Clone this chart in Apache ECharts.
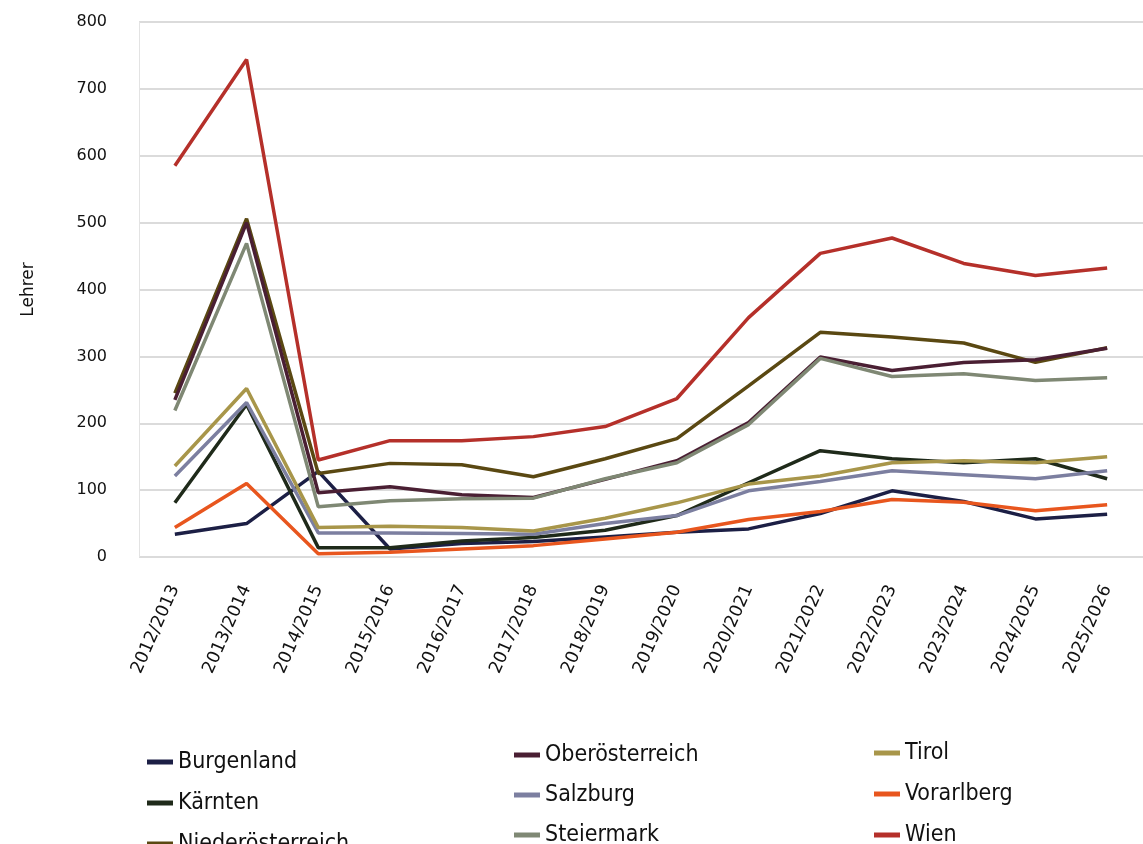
<!DOCTYPE html>
<html>
<head>
<meta charset="utf-8">
<script src="https://cdn.jsdelivr.net/npm/echarts@6/dist/echarts.min.js"></script>
<style>
    html, body { margin: 0; padding: 0; background: #fff; }
    #mychart { width: 1143px; height: 844px; }
</style>
</head>
<body>
<div id="mychart"></div>
<script>
// Schuljahre
var years = ['2012/2013', '2013/2014', '2014/2015', '2015/2016', '2016/2017', '2017/2018', '2018/2019',
    '2019/2020', '2020/2021', '2021/2022', '2022/2023', '2023/2024', '2024/2025', '2025/2026'];
var yTicks = [0, 100, 200, 300, 400, 500, 600, 700, 800];

// Lehrer je Bundesland
var burgenland = [34, 50, 128, 12, 20, 23, 30, 37, 42, 65, 99, 83, 57, 64];
var kaernten = [81, 228, 14, 14, 24, 29, 40, 62, 111, 159, 147, 141, 147, 117];
var niederoesterreich = [245, 506, 125, 140, 138, 120, 147, 177, 256, 336, 329, 320, 291, 313];
var oberoesterreich = [235, 500, 96, 105, 93, 89, 116, 144, 201, 299, 279, 291, 295, 312];
var salzburg = [121, 231, 36, 36, 35, 34, 50, 62, 99, 113, 129, 123, 117, 129];
var steiermark = [219, 469, 75, 84, 87, 88, 117, 141, 198, 297, 270, 274, 264, 268];
var tirol = [136, 252, 44, 46, 44, 39, 58, 81, 109, 121, 141, 144, 141, 150];
var vorarlberg = [44, 110, 5, 7, 12, 17, 27, 37, 56, 68, 86, 82, 69, 78];
var wien = [585, 744, 145, 174, 174, 180, 195, 237, 358, 454, 477, 439, 421, 432];

var names = ['Burgenland', 'Kärnten', 'Niederösterreich', 'Oberösterreich', 'Salzburg', 'Steiermark', 'Tirol', 'Vorarlberg', 'Wien'];
var values = [burgenland, kaernten, niederoesterreich, oberoesterreich, salzburg, steiermark, tirol, vorarlberg, wien];
var colors = ['#1c1f45', '#1f2a1a', '#5a4812', '#4a1f33', '#7c7fa0', '#7f8874', '#a8964a', '#e8561e', '#b5302a'];

var legendFont = '"Liberation Sans Narrow", "DejaVu Sans Condensed", "Noto Sans", sans-serif';

// Legende in drei Spalten
function makeLegend(left, top, gap, data) {
    return {
        orient: 'vertical',
        left: left,
        top: top,
        height: 200,
        icon: 'rect',
        itemWidth: 26,
        itemHeight: 5,
        itemGap: gap,
        data: data,
        textStyle: {
            fontFamily: legendFont,
            fontSize: 23,
            color: '#111',
            lineHeight: 24
        }
    };
}

var series = [];
for (var i = 0; i < names.length; i++) {
    series.push({
        name: names[i],
        type: 'line',
        data: values[i],
        symbol: 'none',
        lineStyle: { width: 3.5, color: colors[i] },
        itemStyle: { color: colors[i] },
        z: 2 + i
    });
}

var myChart = echarts.init(document.getElementById('mychart'));
myChart.setOption({
    animation: false,
    color: colors,
    grid: {
        left: 139,
        top: 22,
        width: 1013,
        height: 535
    },
    legend: [
        makeLegend(142, 745, 17, names.slice(0, 3)),
        makeLegend(509, 738, 16, names.slice(3, 6)),
        makeLegend(869, 736, 17, names.slice(6, 9))
    ],
    xAxis: {
        type: 'category',
        data: years,
        boundaryGap: true,
        axisLine: { show: false },
        axisTick: { show: false },
        axisLabel: {
            rotate: 66,
            interval: 0,
            margin: 29,
            color: '#111',
            fontSize: 17.5,
            fontFamily: '"DejaVu Sans", sans-serif'
        }
    },
    yAxis: {
        type: 'value',
        min: yTicks[0],
        max: yTicks[yTicks.length - 1],
        interval: 100,
        name: 'Lehrer',
        nameLocation: 'middle',
        nameRotate: 90,
        nameGap: 102,
        nameTextStyle: { color: '#111', fontSize: 17, fontFamily: '"DejaVu Sans", sans-serif' },
        axisLine: { show: true, lineStyle: { color: '#e3e3e3' } },
        axisLabel: {
            margin: 32,
            color: '#111',
            fontSize: 16,
            fontFamily: '"DejaVu Sans", sans-serif'
        },
        splitLine: { lineStyle: { color: '#cfcfcf', width: 1.5 } }
    },
    series: series
});
</script>
</body>
</html>
